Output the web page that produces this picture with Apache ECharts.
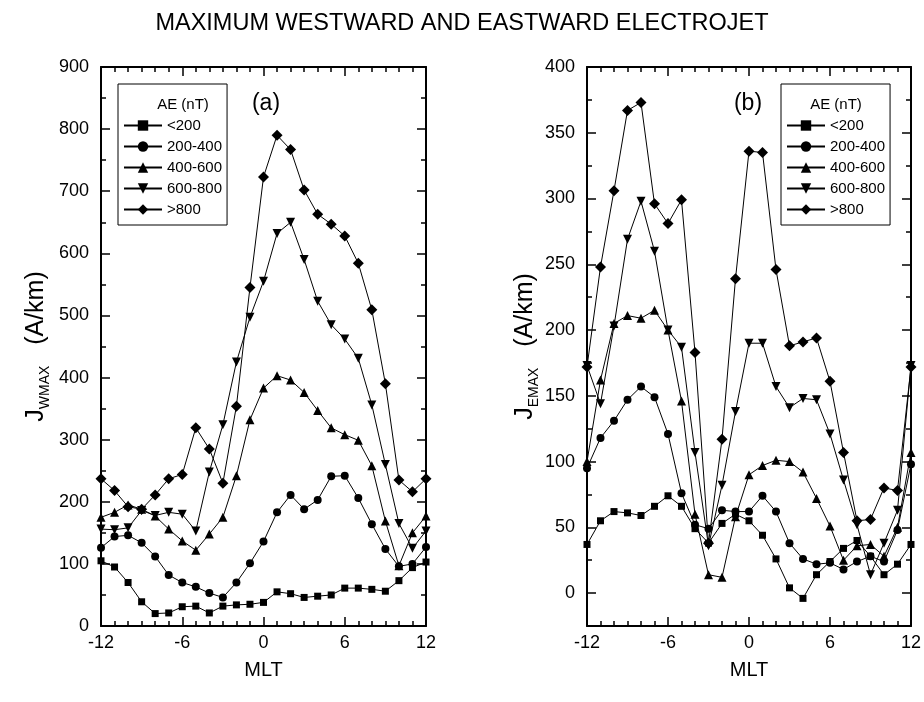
<!DOCTYPE html>
<html>
<head>
<meta charset="utf-8">
<script src="https://cdn.jsdelivr.net/npm/echarts/dist/echarts.min.js"></script>
<style>html,body{margin:0;padding:0;background:#fff}#c{width:924px;height:702px}</style>
</head>
<body>
<div id="c"></div>
<script>
// ---------- DATA ----------
const hours = [-12,-11,-10,-9,-8,-7,-6,-5,-4,-3,-2,-1,0,1,2,3,4,5,6,7,8,9,10,11,12];
const seriesNames = ['<200','200-400','400-600','600-800','>800'];

// (a) maximum westward electrojet J_WMAX (A/km)
const westLt200   = [105,95,70,39,20,21,31,32,21,32,34,35,38,55,52,46,48,50,61,61,59,56,73,94,103];
const west200_400 = [126,144,146,134,112,82,70,63,53,46,70,101,136,183,211,188,203,241,242,206,164,124,96,100,127];
const west400_600 = [175,183,195,188,177,156,137,122,148,175,242,332,383,403,396,376,347,319,308,299,258,169,97,150,177];
const west600_800 = [156,155,158,186,178,183,180,153,248,324,425,497,555,632,650,590,523,485,462,431,356,260,165,125,153];
const westGt800   = [237,218,192,188,211,237,244,319,285,230,354,545,723,790,767,702,663,647,628,584,509,390,235,216,237];

// (b) maximum eastward electrojet J_EMAX (A/km)
const eastLt200   = [37,55,62,61,59,66,74,66,49,38,53,60,55,44,26,4,-4,14,24,34,40,28,14,22,37];
const east200_400 = [95,118,131,147,157,149,121,76,52,49,63,62,62,74,62,38,26,22,23,18,24,28,24,48,98];
const east400_600 = [100,162,205,211,209,215,200,146,60,14,12,58,90,97,101,100,92,72,51,25,36,37,28,50,107];
const east600_800 = [173,144,203,269,298,260,200,187,107,36,82,138,190,190,157,141,148,147,121,86,52,14,38,63,173];
const eastGt800   = [172,248,306,367,373,296,281,299,183,38,117,239,336,335,246,188,191,194,161,107,55,56,80,78,172];

const yTicksEast = [0,50,100,150,200,250,300,350,400];
const yMinorEast = [-25,25,75,125,175,225,275,325,375];

// ---------- STYLE ----------
const F = '"Liberation Sans", Arial, sans-serif';
const K = '#000';
const symbols = [
  {symbol:'rect', size:7, rotate:0},
  {symbol:'circle', size:8, rotate:0},
  {symbol:'triangle', size:9, rotate:0},
  {symbol:'triangle', size:9, rotate:180},
  {symbol:'diamond', size:11, rotate:0}
];

const lineAxis = {show:true, onZero:false, lineStyle:{color:K, width:2}};
function tick(len){ return {show:true, inside:true, length:len, lineStyle:{color:K, width:1.5}}; }

function xAxesFor(g){
  const base = {gridIndex:g, type:'value', min:-12, max:12, interval:6,
    splitLine:{show:false}, axisLine:lineAxis, axisTick:tick(9),
    minorTick:{show:true, splitNumber:6, length:5, lineStyle:{color:K, width:1.5}},
    minorSplitLine:{show:false}};
  return [
    Object.assign({}, base, {position:'bottom',
      axisLabel:{show:true, color:K, fontSize:18, fontFamily:F, margin:8},
      name:'MLT', nameLocation:'middle', nameGap:34,
      nameTextStyle:{color:K, fontSize:20, fontFamily:F}}),
    Object.assign({}, base, {position:'top', axisLabel:{show:false}})
  ];
}

const yNameRich = {
  a:{fontSize:25, fontFamily:F, color:K},
  b:{fontSize:14, fontFamily:F, color:K, padding:[17,0,0,0]}
};

const xAxis = [].concat(xAxesFor(0), xAxesFor(1));

const yAxis = [
  {gridIndex:0, type:'value', position:'left', min:0, max:900, interval:100,
   splitLine:{show:false}, axisLine:lineAxis, axisTick:tick(9),
   minorTick:{show:true, splitNumber:2, length:5, lineStyle:{color:K, width:1.5}},
   axisLabel:{color:K, fontSize:18, fontFamily:F, margin:12},
   name:'{a|J}{b|WMAX}{a|   (A/km)}', nameLocation:'middle', nameGap:49, nameRotate:90,
   nameTextStyle:{rich:yNameRich}},
  {gridIndex:0, type:'value', position:'right', min:0, max:900, interval:100,
   splitLine:{show:false}, axisLine:lineAxis, axisTick:tick(9),
   minorTick:{show:true, splitNumber:2, length:5, lineStyle:{color:K, width:1.5}},
   axisLabel:{show:false}},
  {gridIndex:1, type:'value', position:'left', min:-25, max:400,
   splitLine:{show:false}, axisLine:lineAxis,
   axisTick:Object.assign(tick(9), {customValues:yTicksEast}),
   axisLabel:{color:K, fontSize:18, fontFamily:F, margin:12, customValues:yTicksEast},
   name:'{a|J}{b|EMAX}{a|   (A/km)}', nameLocation:'middle', nameGap:46, nameRotate:90,
   nameTextStyle:{rich:yNameRich}},
  {gridIndex:1, type:'value', position:'left', min:-25, max:400,
   splitLine:{show:false}, axisLine:{show:false, onZero:false},
   axisTick:Object.assign(tick(5), {customValues:yMinorEast}), axisLabel:{show:false}},
  {gridIndex:1, type:'value', position:'right', min:-25, max:400,
   splitLine:{show:false}, axisLine:lineAxis,
   axisTick:Object.assign(tick(9), {customValues:yTicksEast}), axisLabel:{show:false}},
  {gridIndex:1, type:'value', position:'right', min:-25, max:400,
   splitLine:{show:false}, axisLine:{show:false, onZero:false},
   axisTick:Object.assign(tick(5), {customValues:yMinorEast}), axisLabel:{show:false}}
];

function mkSeries(vals, idx, xi, yi){
  const s = symbols[idx];
  return {
    type:'line', name:seriesNames[idx], xAxisIndex:xi, yAxisIndex:yi,
    data: hours.map((h,i)=>[h, vals[i]]),
    symbol:s.symbol, symbolSize:s.size, symbolRotate:s.rotate, showAllSymbol:true,
    lineStyle:{color:K, width:1}, itemStyle:{color:K, borderWidth:0},
    emphasis:{disabled:true}, z:2
  };
}

const westSets = [westLt200, west200_400, west400_600, west600_800, westGt800];
const eastSets = [eastLt200, east200_400, east400_600, east600_800, eastGt800];
const series = [];
westSets.forEach((v,i)=>series.push(mkSeries(v,i,0,0)));
eastSets.forEach((v,i)=>series.push(mkSeries(v,i,2,2)));

function legendAt(left){
  return {data:seriesNames, orient:'vertical', left:left, top:84,
    borderColor:K, borderWidth:1, padding:[34,5,8,5],
    itemWidth:38, itemHeight:13, itemGap:6, selectedMode:false,
    textStyle:{color:K, fontSize:15, fontFamily:F}};
}

const option = {
  animation:false,
  backgroundColor:'#fff',
  title:{text:'MAXIMUM WESTWARD AND EASTWARD ELECTROJET', left:'center', top:7,
    textStyle:{color:K, fontSize:23.5, fontWeight:'normal', fontFamily:F}},
  grid:[
    {left:101, top:67, width:325, height:559, containLabel:false},
    {left:587, top:67, width:324, height:559, containLabel:false}
  ],
  xAxis:xAxis, yAxis:yAxis,
  legend:[legendAt(118), legendAt(781)],
  graphic:[
    {type:'text', x:183, y:105, style:{text:'AE (nT)', align:'center', verticalAlign:'middle', fontSize:15, fontFamily:F, fill:K}},
    {type:'text', x:836, y:105, style:{text:'AE (nT)', align:'center', verticalAlign:'middle', fontSize:15, fontFamily:F, fill:K}},
    {type:'text', x:266, y:104, style:{text:'(a)', align:'center', verticalAlign:'middle', fontSize:23, fontFamily:F, fill:K}},
    {type:'text', x:748, y:104, style:{text:'(b)', align:'center', verticalAlign:'middle', fontSize:23, fontFamily:F, fill:K}}
  ],
  series:series
};

const chart = echarts.init(document.getElementById('c'), null, {renderer:'canvas'});
chart.setOption(option);
</script>
</body>
</html>
